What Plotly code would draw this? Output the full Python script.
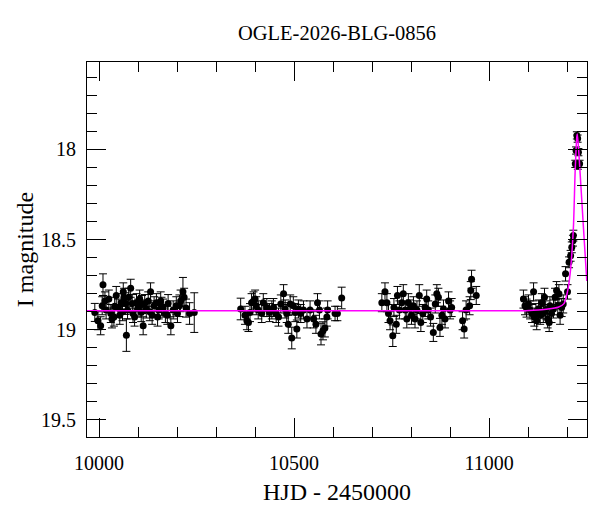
import plotly.graph_objects as go

# OGLE I-band photometry (HJD - 2450000, I mag, error)
hjd = [
    9989, 9997, 10004, 10008, 10010, 10015, 10018, 10025, 10030, 10033,
    10038, 10040, 10044, 10049, 10053, 10057, 10060, 10062, 10064, 10068,
    10070, 10073, 10076, 10081, 10085, 10087, 10091, 10096, 10100, 10104,
    10108, 10110, 10113, 10117, 10121, 10126, 10130, 10132, 10136, 10141,
    10147, 10150, 10153, 10158, 10160, 10164, 10170, 10175, 10177, 10184,
    10190, 10198, 10201, 10206, 10209, 10215, 10218, 10223, 10232, 10244,
    10363, 10374, 10379, 10383, 10387, 10391, 10396, 10400, 10403, 10408,
    10417, 10421, 10430, 10437, 10443, 10447, 10454, 10460, 10466, 10473,
    10477, 10481, 10485, 10490, 10494, 10498, 10503, 10507, 10511, 10517,
    10524, 10533, 10541, 10550, 10556, 10560, 10565, 10569, 10574, 10579,
    10584, 10586, 10605, 10611, 10622,
    10725, 10733, 10738, 10742, 10746, 10753, 10756, 10762, 10765, 10770,
    10776, 10780, 10785, 10789, 10793, 10797, 10801, 10806, 10810, 10815,
    10821, 10825, 10830, 10836, 10840, 10844, 10850, 10857, 10862, 10866,
    10870, 10874, 10879, 10883, 10887, 10896, 10900, 10904, 10932, 10936,
    10941, 10950, 10953, 10955, 10967,
    11088, 11092, 11096, 11101, 11105, 11110, 11114, 11116, 11120, 11122,
    11127, 11131, 11135, 11139, 11142, 11145, 11150, 11154, 11156, 11160,
    11165, 11169, 11173, 11176, 11179, 11182, 11186, 11190, 11196, 11201,
    11205, 11209, 11212, 11215, 11216, 11221, 11223, 11225, 11227, 11227.5,
    11229, 11232,
]
imag = [
    18.904, 18.95, 18.978, 18.867, 18.75, 18.84, 18.89, 18.83, 18.91, 18.94,
    18.93, 18.87, 18.81, 18.88, 18.92, 18.85, 18.90, 18.79, 18.82, 18.855,
    19.03, 18.89, 18.82, 18.77, 18.855, 18.91, 18.93, 18.85, 18.88, 18.83,
    18.905, 18.86, 18.978, 18.855, 18.885, 18.84, 18.90, 18.79, 18.92, 18.867,
    18.85, 18.93, 18.89, 18.84, 18.87, 18.88, 18.91, 18.92, 18.855, 18.978,
    18.89, 18.867, 18.91, 18.867, 18.84, 18.79, 18.82, 18.88, 18.91, 18.905,
    18.885, 18.92, 18.95, 18.96, 18.905, 18.85, 18.84, 18.83, 18.867, 18.89,
    18.91, 18.85, 18.877, 18.905, 18.89, 18.877, 18.91, 18.93, 18.857, 18.80,
    18.885, 18.91, 18.97, 18.857, 19.046, 18.867, 18.905, 18.996, 18.885, 18.91,
    18.89, 18.94, 18.89, 18.94, 18.97, 18.85, 18.89, 19.024, 19.006, 18.99,
    18.93, 18.89, 18.91, 18.91, 18.824,
    18.85, 18.79, 18.85, 18.91, 18.95, 19.033, 18.877, 18.97, 18.81, 18.89,
    18.85, 18.80, 18.89, 18.94, 18.85, 18.885, 18.92, 18.867, 18.94, 18.89,
    18.81, 18.96, 18.91, 18.877, 18.83, 18.89, 18.93, 19.015, 18.857, 18.80,
    18.82, 18.987, 18.92, 18.885, 18.94, 18.84, 18.89, 18.877, 18.95, 18.996,
    18.89, 18.867, 18.783, 18.72, 18.81,
    18.83, 18.867, 18.88, 18.857, 18.89, 18.91, 18.79, 18.93, 18.905, 18.95,
    18.885, 18.92, 18.85, 18.91, 18.82, 18.89, 18.94, 18.96, 18.867, 18.91,
    18.885, 18.82, 18.783, 18.867, 18.80, 18.92, 18.877, 18.857, 18.69, 18.79,
    18.626, 18.59, 18.543, 18.506, 18.478, 18.08, 18.006, 17.922, 17.94, 18.09,
    18.015, 18.08,
]
ierr = [
    0.05, 0.05, 0.05, 0.05, 0.06, 0.05, 0.05, 0.05, 0.05, 0.05,
    0.05, 0.05, 0.05, 0.05, 0.05, 0.05, 0.05, 0.05, 0.05, 0.06,
    0.09, 0.05, 0.05, 0.05, 0.05, 0.05, 0.05, 0.05, 0.05, 0.05,
    0.05, 0.05, 0.05, 0.05, 0.05, 0.05, 0.05, 0.05, 0.05, 0.05,
    0.05, 0.05, 0.05, 0.05, 0.05, 0.05, 0.05, 0.05, 0.05, 0.05,
    0.05, 0.05, 0.05, 0.06, 0.06, 0.08, 0.05, 0.05, 0.06, 0.11,
    0.06, 0.05, 0.05, 0.05, 0.05, 0.05, 0.05, 0.05, 0.05, 0.05,
    0.05, 0.05, 0.05, 0.05, 0.05, 0.05, 0.05, 0.05, 0.05, 0.05,
    0.05, 0.05, 0.05, 0.05, 0.06, 0.05, 0.05, 0.05, 0.05, 0.05,
    0.05, 0.05, 0.05, 0.05, 0.05, 0.05, 0.05, 0.06, 0.05, 0.05,
    0.05, 0.05, 0.04, 0.04, 0.06,
    0.05, 0.05, 0.05, 0.05, 0.05, 0.06, 0.05, 0.05, 0.05, 0.05,
    0.05, 0.05, 0.05, 0.05, 0.05, 0.05, 0.05, 0.05, 0.05, 0.05,
    0.06, 0.05, 0.05, 0.05, 0.05, 0.05, 0.05, 0.05, 0.05, 0.05,
    0.05, 0.05, 0.05, 0.05, 0.05, 0.05, 0.05, 0.05, 0.05, 0.05,
    0.05, 0.05, 0.05, 0.05, 0.05,
    0.05, 0.05, 0.05, 0.05, 0.05, 0.05, 0.05, 0.05, 0.05, 0.05,
    0.05, 0.05, 0.05, 0.05, 0.05, 0.05, 0.05, 0.05, 0.05, 0.05,
    0.05, 0.05, 0.05, 0.05, 0.05, 0.05, 0.05, 0.05, 0.04, 0.04,
    0.03, 0.03, 0.03, 0.03, 0.03, 0.02, 0.02, 0.02, 0.02, 0.02,
    0.02, 0.02,
]

# microlensing model curve
model_hjd = [9969, 11087, 11126, 11151, 11177, 11192, 11200.8, 11207.7,
             11216.2, 11220.5, 11224.9, 11226.4, 11233.3, 11241.8, 11250.5]
model_mag = [18.895, 18.895, 18.89, 18.885, 18.875, 18.855, 18.79, 18.69,
             18.43, 18.13, 17.93, 17.915, 18.13, 18.43, 18.73]

FONT = "Liberation Serif"

fig = go.Figure()

fig.add_trace(go.Scatter(
    x=hjd, y=imag, mode="markers",
    marker=dict(color="black", size=7),
    error_y=dict(type="data", array=ierr, color="black", thickness=1, width=4),
    showlegend=False,
))

fig.add_trace(go.Scatter(
    x=model_hjd, y=model_mag, mode="lines",
    line=dict(color="#ff00ff", width=1.5, shape="spline", smoothing=0.6),
    showlegend=False,
))

# the page body adds an 8px offset, so margins are shifted by that amount
fig.update_layout(
    width=600, height=512,
    paper_bgcolor="white", plot_bgcolor="white",
    font=dict(family=FONT, size=20, color="black"),
    margin=dict(l=79, r=21, t=54, b=83),
    title=dict(text="OGLE-2026-BLG-0856", x=0.5, xref="paper",
               y=1 - 25 / 512, yref="container", yanchor="middle",
               font=dict(family=FONT, size=20.5)),
    xaxis=dict(
        range=[9969, 11251], tickformat="d", dtick=500, tick0=10000,
        ticks="inside", ticklen=19, tickcolor="black", tickwidth=1,
        minor=dict(dtick=100, tick0=10000, ticks="inside", ticklen=10,
                   tickcolor="black", tickwidth=1),
        showline=True, linecolor="black", linewidth=1.2, mirror="ticks",
        showgrid=False, zeroline=False, ticklabelstandoff=8,
        automargin=False,
        title=dict(text="HJD - 2450000", standoff=10),
    ),
    yaxis=dict(
        range=[19.595, 17.515], dtick=0.5, tick0=18,
        ticks="inside", ticklen=19, tickcolor="black", tickwidth=1,
        minor=dict(dtick=0.1, tick0=18, ticks="inside", ticklen=10,
                   tickcolor="black", tickwidth=1),
        showline=True, linecolor="black", linewidth=1.2, mirror="ticks",
        showgrid=False, zeroline=False, ticklabelstandoff=6,
        automargin=False,
        title=dict(text="I magnitude", standoff=0),
    ),
)

fig.write_html("out.html")
